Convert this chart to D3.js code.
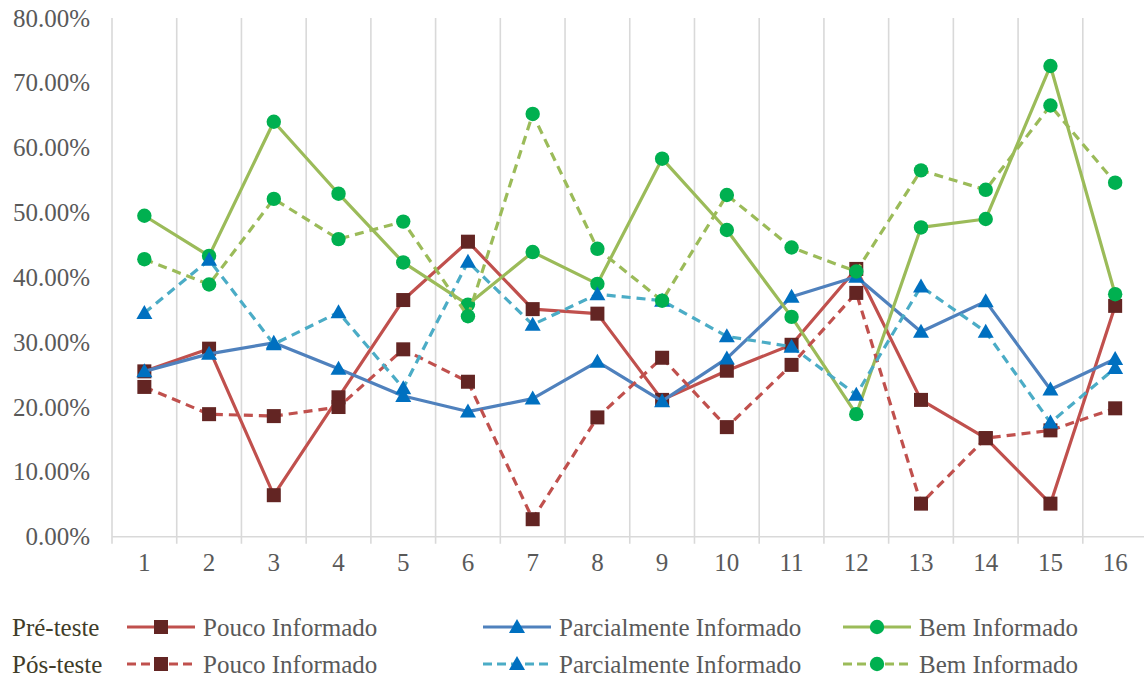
<!DOCTYPE html>
<html>
<head>
<meta charset="utf-8">
<script src="https://cdn.jsdelivr.net/npm/d3@7"></script>
<style>
  html, body { margin: 0; padding: 0; background: #fff; }
  svg { display: block; }
  text { font-family: "Liberation Serif", "DejaVu Serif", serif; }
</style>
</head>
<body>
<svg id="chart" width="1144" height="677"></svg>
<script>
// Categories (questions 1..16)
const categories = ["1","2","3","4","5","6","7","8","9","10","11","12","13","14","15","16"];

// Pré-teste (%)
const prePouco   = [25.5, 29.0, 6.4, 21.5, 36.5, 45.5, 35.1, 34.4, 21.1, 25.6, 29.6, 41.3, 21.1, 15.2, 5.1, 35.6];
const preParcial = [25.5, 28.2, 29.9, 25.9, 21.7, 19.3, 21.3, 27.0, 20.9, 27.5, 37.0, 40.1, 31.6, 36.3, 22.7, 27.4];
const preBem     = [49.5, 43.3, 64.0, 52.9, 42.3, 35.8, 43.9, 39.0, 58.3, 47.3, 33.9, 18.9, 47.7, 49.0, 72.6, 37.4];

// Pós-teste (%)
const posPouco   = [23.1, 18.9, 18.6, 20.0, 28.9, 23.9, 2.7, 18.4, 27.6, 16.9, 26.5, 37.6, 5.1, 15.2, 16.4, 19.8];
const posParcial = [34.5, 42.7, 29.7, 34.6, 22.9, 42.4, 32.7, 37.4, 36.4, 30.9, 29.3, 21.9, 38.6, 31.6, 17.6, 26.0];
const posBem     = [42.8, 38.9, 52.1, 45.9, 48.6, 34.0, 65.2, 44.4, 36.4, 52.7, 44.6, 40.9, 56.5, 53.5, 66.5, 54.6];

const yTicks = [0, 10, 20, 30, 40, 50, 60, 70, 80];

const groupLabels = ["Pré-teste", "Pós-teste"];
const seriesLabels = ["Pouco Informado", "Parcialmente Informado", "Bem Informado"];

const series = [
  { name: seriesLabels[0], group: 0, values: prePouco,   line: "#C0504D", marker: "#632523", shape: "square",   dash: null },
  { name: seriesLabels[1], group: 0, values: preParcial, line: "#4F81BD", marker: "#0070C0", shape: "triangle", dash: null },
  { name: seriesLabels[2], group: 0, values: preBem,     line: "#9BBB59", marker: "#00B050", shape: "circle",   dash: null },
  { name: seriesLabels[0], group: 1, values: posPouco,   line: "#C0504D", marker: "#632523", shape: "square",   dash: "9,6" },
  { name: seriesLabels[1], group: 1, values: posParcial, line: "#4BACC6", marker: "#0070C0", shape: "triangle", dash: "9,6" },
  { name: seriesLabels[2], group: 1, values: posBem,     line: "#9BBB59", marker: "#00B050", shape: "circle",   dash: "9,6" }
];

const svg = d3.select("#chart");

const plot = { left: 112, top: 18, bottom: 536.7, band: 64.72 };
const x = d3.scaleBand()
  .domain(categories)
  .range([plot.left, plot.left + plot.band * categories.length])
  .padding(0);
const y = d3.scaleLinear().domain([0, 80]).range([plot.bottom, plot.top]);
const cx = d => x(d) + x.bandwidth() / 2;

const gridColor = "#D9D9D9";
const labelColor = "#595959";

// Vertical gridlines at category boundaries (they also serve as tick marks)
const bounds = categories.map(c => x(c)).concat([x.range()[1]]);
svg.append("g").selectAll("line")
  .data(bounds)
  .join("line")
  .attr("x1", d => d).attr("x2", d => d)
  .attr("y1", plot.top).attr("y2", plot.bottom + 7)
  .attr("stroke", gridColor).attr("stroke-width", 1.6);

// Category axis line
svg.append("line")
  .attr("x1", plot.left).attr("x2", 1144)
  .attr("y1", plot.bottom).attr("y2", plot.bottom)
  .attr("stroke", gridColor).attr("stroke-width", 1.6);

// Value axis labels
const yAxis = d3.axisLeft(y).tickValues(yTicks).tickSize(0).tickPadding(0)
  .tickFormat(d => d.toFixed(2) + "%");
const gy = svg.append("g").attr("transform", "translate(90,0)").call(yAxis);
gy.select(".domain").remove();
gy.selectAll("text")
  .attr("font-family", "'Liberation Serif', serif")
  .attr("font-size", 25).attr("fill", labelColor);

// Category axis labels
const xAxis = d3.axisBottom(x).tickSize(0).tickPadding(0);
const gx = svg.append("g").attr("transform", `translate(0,${plot.bottom + 17})`).call(xAxis);
gx.select(".domain").remove();
gx.selectAll("text")
  .attr("font-family", "'Liberation Serif', serif")
  .attr("font-size", 25).attr("fill", labelColor);

// Marker drawing
function drawMarker(g, shape, color, px, py) {
  if (shape === "square") {
    g.append("rect").attr("x", px - 7).attr("y", py - 7).attr("width", 14).attr("height", 14)
      .attr("fill", color);
  } else if (shape === "triangle") {
    g.append("path")
      .attr("d", `M${px},${py - 8} L${px + 8},${py + 6} L${px - 8},${py + 6} Z`)
      .attr("fill", color);
  } else {
    g.append("circle").attr("cx", px).attr("cy", py).attr("r", 7.2).attr("fill", color);
  }
}

const line = d3.line().x((d, i) => cx(categories[i])).y(d => y(d));

series.forEach(s => {
  const g = svg.append("g");
  g.append("path")
    .attr("d", line(s.values))
    .attr("fill", "none")
    .attr("stroke", s.line)
    .attr("stroke-width", 3.2)
    .attr("stroke-linejoin", "round")
    .attr("stroke-dasharray", s.dash);
  s.values.forEach((v, i) => drawMarker(g, s.shape, s.marker, cx(categories[i]), y(v)));
});

// Legend
const legend = svg.append("g");
const rowY = [627, 664];
const colX = [127, 483, 843];
groupLabels.forEach((lbl, r) => {
  legend.append("text")
    .attr("x", 12).attr("y", rowY[r])
    .attr("dominant-baseline", "central")
    .attr("font-size", 25).attr("fill", "#403C28")
    .text(lbl);
});
series.forEach((s, k) => {
  const r = s.group, c = k % 3;
  const lx = colX[c], ly = rowY[r];
  const g = legend.append("g");
  g.append("line")
    .attr("x1", lx).attr("x2", lx + 68).attr("y1", ly).attr("y2", ly)
    .attr("stroke", s.line).attr("stroke-width", 3.2)
    .attr("stroke-dasharray", s.dash ? "9,5" : null);
  drawMarker(g, s.shape, s.marker, lx + 34, ly);
  g.append("text")
    .attr("x", lx + 76).attr("y", ly)
    .attr("dominant-baseline", "central")
    .attr("font-size", 25).attr("fill", labelColor)
    .text(s.name);
});
</script>
</body>
</html>
